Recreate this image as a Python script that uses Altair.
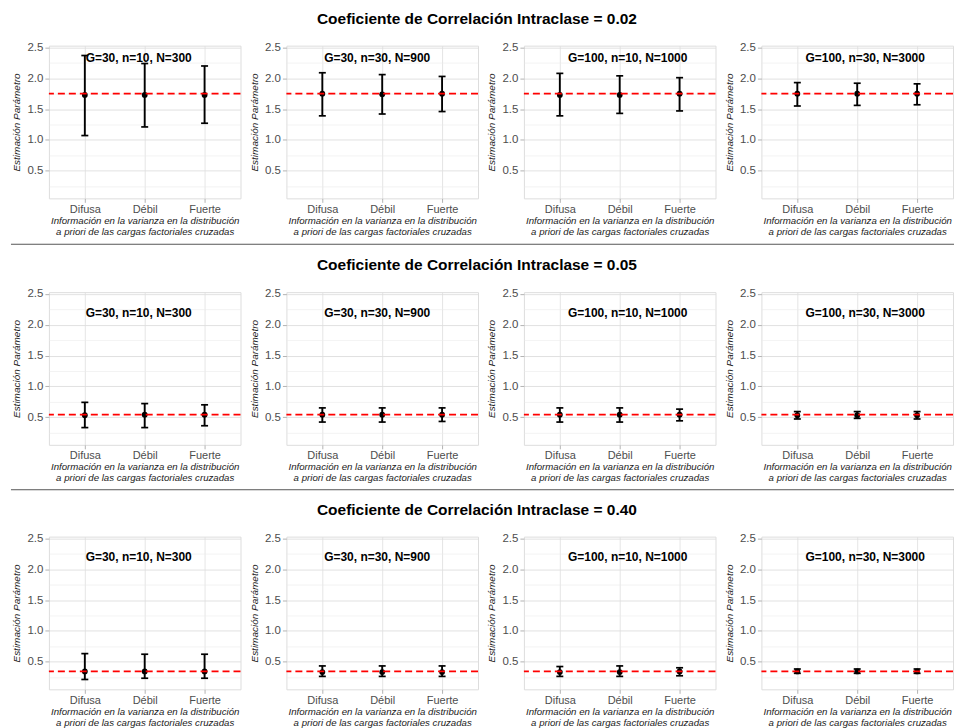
import altair as alt
import pandas as pd

# Intraclass correlation levels (one row of panels each)
icc_levels = ["0.02", "0.05", "0.40"]
# Simulation designs (one panel each)
designs = ["G=30, n=10, N=300", "G=30, n=30, N=900",
           "G=100, n=10, N=1000", "G=100, n=30, N=3000"]
design_dx = [-6, -5, 8, 8]
# Prior information on the cross-loading variances
priors = ["Difusa", "Débil", "Fuerte"]
# Population value of the parameter for each ICC level
true_values = [1.75, 0.54, 0.34]

# Posterior estimates [icc][design][prior]
estimates = [
    [[1.73, 1.73, 1.73], [1.75, 1.74, 1.75], [1.73, 1.73, 1.75], [1.75, 1.75, 1.75]],
    [[0.53, 0.54, 0.54], [0.54, 0.54, 0.54], [0.54, 0.54, 0.54], [0.53, 0.53, 0.53]],
    [[0.34, 0.34, 0.34], [0.33, 0.33, 0.33], [0.33, 0.33, 0.34], [0.34, 0.34, 0.34]],
]
lower = [
    [[1.07, 1.21, 1.27], [1.39, 1.42, 1.46], [1.39, 1.43, 1.47], [1.55, 1.56, 1.57]],
    [[0.33, 0.33, 0.36], [0.42, 0.42, 0.43], [0.42, 0.42, 0.44], [0.47, 0.48, 0.47]],
    [[0.21, 0.23, 0.23], [0.26, 0.26, 0.26], [0.26, 0.26, 0.27], [0.31, 0.31, 0.31]],
]
upper = [
    [[2.37, 2.24, 2.20], [2.09, 2.06, 2.03], [2.08, 2.04, 2.01], [1.93, 1.92, 1.91]],
    [[0.74, 0.72, 0.70], [0.65, 0.65, 0.65], [0.65, 0.65, 0.63], [0.59, 0.59, 0.59]],
    [[0.63, 0.62, 0.62], [0.43, 0.43, 0.43], [0.42, 0.43, 0.40], [0.38, 0.38, 0.38]],
]

Y_TICKS = [0.25, 0.5, 0.75, 1.0, 1.25, 1.5, 1.75, 2.0, 2.25, 2.5]
X_TITLE = ["Información en la varianza en la distribución",
           "a priori de las cargas factoriales cruzadas"]
FONT = "Liberation Sans"
PANEL_W, PANEL_H = 192, 153
MAJOR = "datum.value % 0.5 === 0"

x_enc = alt.X(
    "prior:N",
    scale=alt.Scale(type="point", domain=priors, padding=0.6),
    axis=alt.Axis(
        title=X_TITLE, labelAngle=0, labelFont=FONT, labelFontSize=11,
        labelColor="#4D4D4D", labelPadding=1, tickSize=4, tickColor="#B3B3B3",
        tickWidth=1, domain=False, grid=True, gridColor="#DEDEDE", gridWidth=0.8,
        titleFont=FONT, titleFontSize=9.7, titleFontStyle="italic",
        titleFontWeight="normal", titleColor="#1A1A1A", titleLineHeight=11,
        titlePadding=1,
    ),
)

y_scale = alt.Scale(domain=[0.05, 2.53], nice=False, zero=False)
y_axis = alt.Axis(
    title="Estimación Parámetro", values=Y_TICKS,
    labelExpr=f"{MAJOR} ? format(datum.value, '.1f') : ''",
    labelFont=FONT, labelFontSize=11.5, labelColor="#4D4D4D", labelPadding=2,
    tickSize=4, tickColor="#B3B3B3", tickWidth=1,
    tickOpacity=alt.condition(MAJOR, alt.value(1), alt.value(0)),
    domain=False, grid=True,
    gridColor=alt.condition(MAJOR, alt.value("#DEDEDE"), alt.value("#EBEBEB")),
    gridWidth=alt.condition(MAJOR, alt.value(0.9), alt.value(0.6)),
    titleFont=FONT, titleFontSize=10, titleFontStyle="italic",
    titleFontWeight="normal", titleColor="#1A1A1A", titlePadding=5,
)


def panel(i, j):
    df = pd.DataFrame({
        "prior": priors,
        "est": estimates[i][j],
        "lo": lower[i][j],
        "hi": upper[i][j],
    })
    base = alt.Chart(df)
    bars = base.mark_rule(color="black", strokeWidth=1.9).encode(
        x=x_enc, y=alt.Y("lo:Q", scale=y_scale, axis=y_axis), y2="hi:Q")
    cap_lo = base.mark_tick(color="black", orient="horizontal", size=7,
                            thickness=1.7, opacity=1).encode(
        x=x_enc, y=alt.Y("lo:Q", scale=y_scale, axis=y_axis))
    cap_hi = base.mark_tick(color="black", orient="horizontal", size=7,
                            thickness=1.7, opacity=1).encode(
        x=x_enc, y=alt.Y("hi:Q", scale=y_scale, axis=y_axis))
    pts = base.mark_point(filled=True, color="black", size=34, opacity=1).encode(
        x=x_enc, y=alt.Y("est:Q", scale=y_scale, axis=y_axis))
    ref = alt.Chart(pd.DataFrame({"valor": [true_values[i]]})).mark_rule(
        color="#FF0000", strokeDash=[7, 4], strokeWidth=1.7).encode(
        y=alt.Y("valor:Q", scale=y_scale, axis=y_axis))
    return alt.layer(bars, cap_lo, cap_hi, pts, ref).properties(
        width=PANEL_W, height=PANEL_H,
        title=alt.TitleParams(
            designs[j], font=FONT, fontSize=12, fontWeight="bold",
            color="black", anchor="middle", dx=design_dx[j],
            offset=-24 if i == 0 else -32,
        ),
    )


def separator(line_y, h):
    return alt.Chart(pd.DataFrame({"k": [0]})).mark_rule(
        color="#555555", strokeWidth=1).encode(
        x=alt.value(-38), x2=alt.value(907), y=alt.value(line_y)
    ).properties(width=906, height=h, view=alt.ViewBackground(stroke=None))


# (rule position, height) of the dividers between rows
separators = [(7, 20), (6, 18)]

rows = []
for i, icc in enumerate(icc_levels):
    row = alt.hconcat(*[panel(i, j) for j in range(4)], spacing=46,
                      bounds="flush").properties(
        title=alt.TitleParams(
            f"Coeficiente de Correlación Intraclase = {icc}", font=FONT,
            fontSize=15.5, fontWeight="bold", color="black", anchor="middle",
            offset=14, dx=-6,
        )
    )
    rows.append(row)
    if i < len(icc_levels) - 1:
        rows.append(separator(*separators[i]))

chart = alt.vconcat(*rows, spacing=0).properties(
    padding={"left": 10, "top": 10, "right": 0, "bottom": 0}
).configure_view(stroke="#B3B3B3", strokeWidth=1.3).configure(background="white")

chart.save("out.html", embed_options={"renderer": "svg", "actions": False})
